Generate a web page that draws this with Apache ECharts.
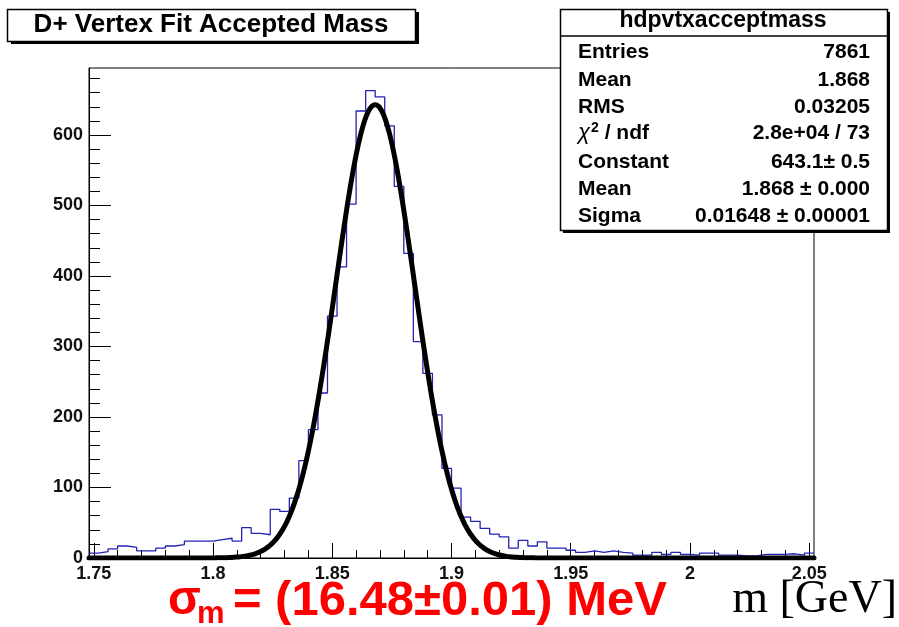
<!DOCTYPE html>
<html>
<head>
<meta charset="utf-8">
<script src="https://cdn.jsdelivr.net/npm/echarts@6/dist/echarts.min.js"></script>
<style>
  html, body { margin: 0; padding: 0; background: #fff; }
  #chart { width: 899px; height: 627px; }
</style>
</head>
<body>
<div id="chart"></div>
<script>
// Histogram binning: 76 bins of 4 MeV from 1.748 GeV
const histLow = 1.748;
const histHigh = 2.052;
const binWidth = 0.004;

// Bin contents
const counts = [
  7, 9, 13, 17, 15, 10, 10, 14, 17, 19,
  24, 24, 24, 26, 28, 24, 43, 35, 33, 69,
  66, 85, 138, 182, 234, 343, 413, 502, 634, 663,
  654, 613, 527, 432, 307, 262, 203, 127, 99, 58,
  52, 42, 34, 30, 14, 25, 17, 23, 14, 14,
  11, 8, 10, 8, 10, 8, 7, 4, 4, 8,
  5, 8, 5, 4, 7, 7, 4, 4, 3, 3,
  5, 5, 5, 6, 4, 7
];

// Gaussian fit parameters (as reported in the stats box)
const fitConstant = 643.1;
const fitMean = 1.868;
const fitSigma = 0.01648;

// Axis ticks and labels
const xMajorTicks = [1.75, 1.8, 1.85, 1.9, 1.95, 2, 2.05];
const xMinorStep = 0.01;
const yMajorTicks = [0, 100, 200, 300, 400, 500, 600];
const yMinorStep = 20;
const yMax = 695;

// Stats box rows
const statLabels = ['Entries', 'Mean', 'RMS', '{chi|\u03c7}{sup|2}{n| / ndf}', 'Constant', 'Mean', 'Sigma'];
const statValues = ['7861', '1.868', '0.03205', '2.8e+04 / 73', '643.1\u00b1 0.5', '1.868 \u00b1 0.000', '0.01648 \u00b1 0.00001'];

// ---- derived series ----
const histPoints = counts.map((c, i) => [histLow + i * binWidth, c]);
histPoints.push([histHigh, counts[counts.length - 1]]);

const fitPoints = [];
const nFit = 600;
for (let i = 0; i <= nFit; i++) {
  const x = histLow + (histHigh - histLow) * i / nFit;
  const u = (x - fitMean) / fitSigma;
  fitPoints.push([x, fitConstant * Math.exp(-0.5 * u * u)]);
}

const xMinorTicks = [];
for (let v = xMajorTicks[0]; v <= xMajorTicks[xMajorTicks.length - 1] + 1e-9; v += xMinorStep) {
  xMinorTicks.push(Math.round(v * 1000) / 1000);
}
const yMinorTicks = [];
for (let v = 0; v < yMax; v += yMinorStep) yMinorTicks.push(v);

const sans = '"Liberation Sans", Arial, Helvetica, sans-serif';
const serif = '"Liberation Serif", "Times New Roman", serif';

const gridLeft = 89, gridTop = 68, gridW = 725, gridH = 490;

const chart = echarts.init(document.getElementById('chart'), null, { renderer: 'canvas' });

// stats box text elements
const statFont = 'bold 21px ' + sans;
const statsGraphics = [];
const rowY = [52, 80, 107, 133, 162, 189, 216];
statLabels.forEach((t, i) => {
  statsGraphics.push({
    type: 'text', z: 102,
    style: {
      x: 578, y: rowY[i], text: t, font: statFont, fill: '#000',
      textAlign: 'left', textVerticalAlign: 'middle',
      rich: {
        chi: { fontFamily: sans, fontSize: 22, fontStyle: 'italic', fill: '#000' },
        sup: { fontFamily: sans, fontSize: 14, fontWeight: 'bold', fill: '#000', padding: [0, 0, 10, 1] },
        n: { fontFamily: sans, fontSize: 21, fontWeight: 'bold', fill: '#000' }
      }
    }
  });
  statsGraphics.push({
    type: 'text', z: 102,
    style: { x: 870, y: rowY[i], text: statValues[i], font: statFont, fill: '#000',
             textAlign: 'right', textVerticalAlign: 'middle' }
  });
});

const option = {
  animation: false,
  backgroundColor: '#fff',
  grid: {
    left: gridLeft, top: gridTop, width: gridW, height: gridH,
    show: true, borderColor: '#000', borderWidth: 1, backgroundColor: 'transparent'
  },
  xAxis: [
    {
      type: 'value', min: histLow, max: histHigh, position: 'bottom',
      axisLine: { show: true, lineStyle: { color: '#000', width: 1 } },
      axisTick: { show: true, inside: true, length: 15, customValues: xMajorTicks,
                  lineStyle: { color: '#000', width: 1 } },
      axisLabel: { show: true, customValues: xMajorTicks, margin: 7,
                   color: '#111', fontFamily: sans, fontWeight: 'bold', fontSize: 18 },
      splitLine: { show: false }
    },
    {
      type: 'value', min: histLow, max: histHigh, position: 'bottom',
      axisLine: { show: false },
      axisTick: { show: true, inside: true, length: 8, customValues: xMinorTicks,
                  lineStyle: { color: '#000', width: 1 } },
      axisLabel: { show: false },
      splitLine: { show: false }
    }
  ],
  yAxis: [
    {
      type: 'value', min: 0, max: yMax, position: 'left',
      axisLine: { show: true, lineStyle: { color: '#000', width: 1 } },
      axisTick: { show: true, inside: true, length: 22, customValues: yMajorTicks,
                  lineStyle: { color: '#000', width: 1 } },
      axisLabel: { show: true, customValues: yMajorTicks, margin: 6,
                   color: '#111', fontFamily: sans, fontWeight: 'bold', fontSize: 18 },
      splitLine: { show: false }
    },
    {
      type: 'value', min: 0, max: yMax, position: 'left',
      axisLine: { show: false },
      axisTick: { show: true, inside: true, length: 11, customValues: yMinorTicks,
                  lineStyle: { color: '#000', width: 1 } },
      axisLabel: { show: false },
      splitLine: { show: false }
    }
  ],
  series: [
    {
      name: 'hdpvtxacceptmass', type: 'line', step: 'end',
      xAxisIndex: 0, yAxisIndex: 0,
      data: histPoints, symbol: 'none', clip: true,
      lineStyle: { color: '#2323b4', width: 1.3 }, z: 3
    },
    {
      name: 'gaus', type: 'line', smooth: false,
      xAxisIndex: 0, yAxisIndex: 0,
      data: fitPoints, symbol: 'none', clip: true,
      lineStyle: { color: '#000', width: 5, join: 'round', cap: 'round' }, z: 4
    }
  ],
  graphic: [
    // title box with shadow
    { type: 'rect', z: 100, shape: { x: 11, y: 12, width: 408, height: 32 }, style: { fill: '#000' } },
    { type: 'rect', z: 101, shape: { x: 7.5, y: 9.5, width: 408, height: 32 },
      style: { fill: '#fff', stroke: '#000', lineWidth: 1.5 } },
    { type: 'text', z: 102, style: { x: 211, y: 25, text: 'D+ Vertex Fit Accepted Mass',
      font: 'bold 26px ' + sans, fill: '#000', textAlign: 'center', textVerticalAlign: 'middle' } },

    // stats box with shadow
    { type: 'rect', z: 100, shape: { x: 563, y: 12, width: 327, height: 221 }, style: { fill: '#000' } },
    { type: 'rect', z: 101, shape: { x: 560.5, y: 9.5, width: 327, height: 221 },
      style: { fill: '#fff', stroke: '#000', lineWidth: 1.5 } },
    { type: 'line', z: 102, shape: { x1: 560.5, y1: 36, x2: 887.5, y2: 36 },
      style: { stroke: '#000', lineWidth: 1.5 } },
    { type: 'text', z: 102, style: { x: 723, y: 21, text: 'hdpvtxacceptmass',
      font: 'bold 23px ' + sans, fill: '#000', textAlign: 'center', textVerticalAlign: 'middle' } },
    ...statsGraphics,

    // resolution annotation
    { type: 'text', z: 102, style: { x: 168, y: 601, text: '\u03c3',
      font: 'bold 48px ' + sans, fill: '#ff0000', textAlign: 'left', textVerticalAlign: 'middle' } },
    { type: 'text', z: 102, style: { x: 197, y: 614, text: 'm',
      font: 'bold 31px ' + sans, fill: '#ff0000', textAlign: 'left', textVerticalAlign: 'middle' } },
    { type: 'text', z: 102, style: { x: 667, y: 601, text: '= (16.48\u00b10.01) MeV',
      font: 'bold 49px ' + sans, fill: '#ff0000', textAlign: 'right', textVerticalAlign: 'middle' } },

    // axis title
    { type: 'text', z: 102, style: { x: 897, y: 600, text: 'm [GeV]',
      font: '46px ' + serif, fill: '#000', textAlign: 'right', textVerticalAlign: 'middle' } }
  ]
};

chart.setOption(option);
</script>
</body>
</html>
